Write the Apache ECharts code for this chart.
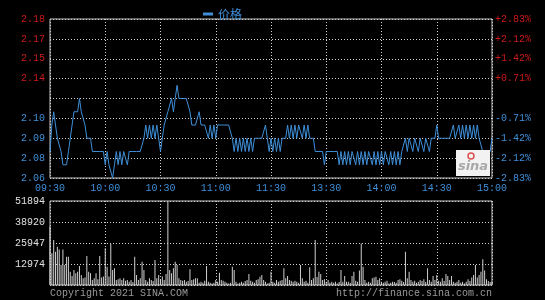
<!DOCTYPE html>
<html>
<head>
<meta charset="utf-8">
<script src="https://cdn.jsdelivr.net/npm/echarts@6/dist/echarts.min.js"></script>
<style>
html,body{margin:0;padding:0;background:#000;}
#c{width:545px;height:300px;}
</style>
</head>
<body>
<div id="c"></div>
<script>
// ---- data ----
const prices = [
2.08,2.10,2.11,2.10,2.09,2.09,2.08,2.07,2.07,2.07,
2.08,2.09,2.10,2.11,2.11,2.11,2.12,2.11,2.11,2.10,
2.09,2.09,2.09,2.08,2.08,2.08,2.08,2.08,2.08,2.08,
2.07,2.08,2.07,2.07,2.06,2.07,2.08,2.07,2.08,2.07,
2.08,2.08,2.07,2.08,2.08,2.08,2.08,2.08,2.08,2.08,
2.08,2.09,2.10,2.09,2.10,2.09,2.10,2.09,2.10,2.09,
2.08,2.09,2.10,2.10,2.11,2.11,2.12,2.11,2.12,2.13,
2.12,2.12,2.12,2.12,2.12,2.12,2.11,2.10,2.10,2.10,
2.10,2.11,2.10,2.10,2.10,2.10,2.09,2.10,2.09,2.10,
2.09,2.10,2.10,2.10,2.10,2.10,2.10,2.10,2.10,2.09,
2.08,2.09,2.08,2.09,2.08,2.09,2.08,2.09,2.08,2.09,
2.08,2.09,2.09,2.09,2.09,2.09,2.09,2.10,2.09,2.08,
2.09,2.08,2.09,2.08,2.09,2.08,2.09,2.09,2.09,2.10,
2.09,2.10,2.09,2.10,2.09,2.10,2.10,2.09,2.10,2.09,
2.10,2.09,2.09,2.09,2.08,2.08,2.08,2.08,2.08,2.07,
2.08,2.08,2.08,2.08,2.08,2.08,2.08,2.07,2.08,2.07,
2.08,2.07,2.08,2.07,2.08,2.08,2.07,2.08,2.07,2.08,
2.07,2.08,2.07,2.08,2.08,2.07,2.08,2.07,2.08,2.07,
2.08,2.07,2.08,2.08,2.07,2.08,2.07,2.08,2.07,2.08,
2.07,2.08,2.08,2.09,2.08,2.09,2.09,2.08,2.09,2.09,
2.08,2.09,2.09,2.08,2.09,2.09,2.08,2.09,2.09,2.09,
2.10,2.09,2.09,2.09,2.09,2.09,2.09,2.09,2.09,2.10,
2.09,2.09,2.10,2.09,2.10,2.09,2.10,2.09,2.10,2.09,
2.10,2.09,2.10,2.09,2.09,2.08,2.08,2.08,2.08,2.08,
2.09
];
const volumes = [
36000,19600,27800,20600,23700,22000,12400,22000,12400,17500,
17500,8200,5600,9300,7200,8200,11700,6200,4100,4700,
17900,8200,7200,3100,4100,7200,3500,17900,4700,5200,
22700,11300,5200,25300,9300,10300,3100,3500,4100,3100,
4100,2700,3100,2000,3100,1800,17500,6200,3100,4100,
14400,9300,3100,2000,4100,3100,2500,15400,4100,6200,
3100,5200,3100,6800,51894,9300,7200,10300,14400,12400,
4100,3100,2700,3100,2000,2500,9700,3100,3500,4100,
4100,1450,2060,1450,2700,11700,2060,1450,1000,1450,
3100,2000,7600,3100,2700,2060,1450,1000,1450,11300,
9300,2060,1000,1450,2060,1450,2500,3100,6800,2700,
2060,1450,3100,3500,5150,6200,3100,2060,1000,1450,
8200,2060,1450,3100,2060,2700,3100,10300,4100,5560,
3100,2700,2060,2700,2060,1450,12400,4100,2060,2700,
1450,10900,3100,4100,27800,5000,8200,6800,3100,3500,
2060,3100,1450,2060,1450,2060,1000,1800,9300,2060,
5560,2060,2060,1450,5560,8200,2700,2060,8900,25700,
11300,3100,1450,2060,1450,4100,4700,5150,3100,4100,
2060,1450,2060,2700,1000,1450,2060,1800,1450,3100,
3500,2700,1800,20600,4100,8200,3100,2060,2700,1450,
2060,3100,2500,3500,1800,10300,3100,2060,5560,3100,
6200,2700,2060,4100,2500,6800,5560,3100,5560,2060,
1450,2060,3100,1450,2060,1000,2060,3500,2500,4700,
6200,12400,4700,6200,8200,15900,8900,3500,2500,1800,
2060
];
const priceTickLabels = ['2.06','2.08','2.09','2.10','','2.14','2.15','2.17','2.18'];
const pctTickLabels = ['-2.83%','-2.12%','-1.42%','-0.71%','','+0.71%','+1.42%','+2.12%','+2.83%'];
const volTickLabels = ['','12974','25947','38920','51894'];
const priceMin = 2.06, priceMax = 2.18;
const volMax = 51894;

// minute categories 09:30-11:30, 13:01-15:00
const categories = [];
function pad(n){return (n<10?'0':'')+n;}
for (let t = 9*60+30; t <= 11*60+30; t++) categories.push(pad(Math.floor(t/60))+':'+pad(t%60));
for (let t = 13*60+1; t <= 15*60; t++) categories.push(pad(Math.floor(t/60))+':'+pad(t%60));

const MONO = '"Liberation Mono", "DejaVu Sans Mono", monospace';
const BLUE = '#3f8fd8';
const RED = '#cc1a1a';
const GRID_DOT = {color:'#d0d0d0', width:1, type:[1,2]};
const every30 = function(idx){ return idx % 30 === 0; };

const chart = echarts.init(document.getElementById('c'), null, {renderer:'canvas'});
chart.setOption({
  backgroundColor:'#000',
  animation:false,
  legend:{
    data:['价格'], left:198, top:3, icon:'rect', itemWidth:10, itemHeight:3, itemGap:6,
    textStyle:{color:BLUE, fontSize:12, fontFamily:'"Noto Sans CJK SC", sans-serif'}
  },
  grid:[
    {left:50, right:53, top:19, height:159, show:true, borderColor:'#c8c8c8', borderWidth:1},
    {left:50, right:53, top:201, height:84, show:true, borderColor:'#c8c8c8', borderWidth:1}
  ],
  xAxis:[
    {gridIndex:0, type:'category', data:categories, boundaryGap:false,
     axisLine:{show:false}, axisTick:{show:false},
     axisLabel:{interval:every30, color:BLUE, fontFamily:MONO, fontSize:10, margin:5},
     splitLine:{show:true, interval:every30, lineStyle:GRID_DOT}},
    {gridIndex:1, type:'category', data:categories, boundaryGap:false,
     axisLine:{show:false}, axisTick:{show:false}, axisLabel:{show:false},
     splitLine:{show:true, interval:every30, lineStyle:GRID_DOT}}
  ],
  yAxis:[
    {gridIndex:0, type:'value', min:0, max:8, interval:1, position:'left',
     axisLine:{show:false}, axisTick:{show:false},
     axisLabel:{formatter:function(v){return priceTickLabels[Math.round(v)];},
       color:function(v){return Math.round(v)>4?RED:BLUE;}, fontFamily:MONO, fontSize:10, margin:5},
     splitLine:{show:true, lineStyle:GRID_DOT}},
    {gridIndex:0, type:'value', min:0, max:8, interval:1, position:'right',
     axisLine:{show:false}, axisTick:{show:false},
     axisLabel:{formatter:function(v){return pctTickLabels[Math.round(v)];},
       color:function(v){return Math.round(v)>4?RED:BLUE;}, fontFamily:MONO, fontSize:10, margin:3},
     splitLine:{show:false}},
    {gridIndex:0, type:'value', min:priceMin, max:priceMax, show:false, splitLine:{show:false}},
    {gridIndex:1, type:'value', min:0, max:volMax, interval:volMax/4, position:'left',
     axisLine:{show:false}, axisTick:{show:false},
     axisLabel:{formatter:function(v){return volTickLabels[Math.round(v/(volMax/4))];},
       color:'#e0e0e0', fontFamily:MONO, fontSize:10, margin:5},
     splitLine:{show:true, lineStyle:GRID_DOT}}
  ],
  series:[
    {name:'价格', type:'line', xAxisIndex:0, yAxisIndex:2, data:prices, showSymbol:false,
     symbol:'none', lineStyle:{color:BLUE, width:1}, itemStyle:{color:BLUE}},
    {name:'成交量', type:'bar', xAxisIndex:1, yAxisIndex:3, data:volumes, barWidth:1,
     itemStyle:{color:'#cfcfcf'}, silent:true}
  ],
  graphic:[
    {type:'rect', shape:{x:456, y:150, width:34, height:26}, style:{fill:'#f2f2f2'}, z:10},
    {type:'circle', shape:{cx:471, cy:156, r:3}, style:{fill:'none', stroke:'#e05050', lineWidth:1.5}, z:11},
    {type:'text', x:473, y:167, style:{text:'sina', fill:'#a8a8a8', font:'italic bold 13px "DejaVu Sans", sans-serif', align:'center', verticalAlign:'middle'}, z:11},
    {type:'text', x:50, y:293, style:{text:'Copyright 2021 SINA.COM', fill:'#9a9a9a', font:'10px '+MONO, align:'left', verticalAlign:'middle'}},
    {type:'text', x:492, y:293, style:{text:'http://finance.sina.com.cn', fill:'#9a9a9a', font:'10px '+MONO, align:'right', verticalAlign:'middle'}}
  ]
});
</script>
</body>
</html>
